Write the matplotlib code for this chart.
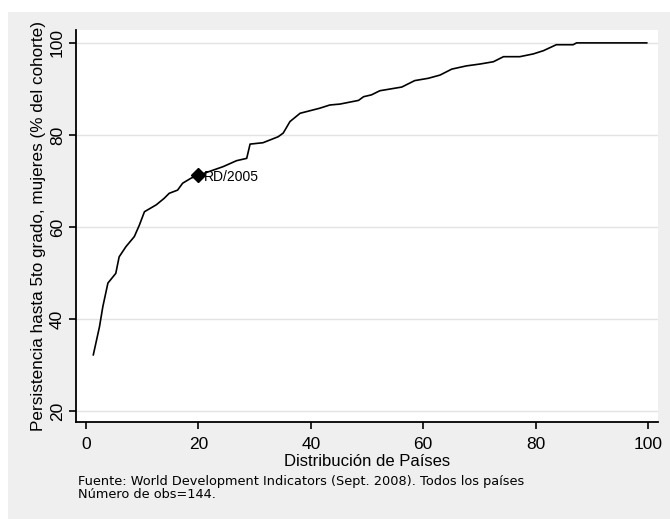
import matplotlib.pyplot as plt
from matplotlib.patches import Rectangle

# percentile rank of country vs. persistence to 5th grade (girls)
dist_paises = [1.3, 2.4, 3.0, 3.9, 5.3, 5.9, 7.1, 8.6, 9.5, 10.4, 12.5, 13.9, 14.8,
               16.3, 17.2, 18.7, 20.2, 24.4, 26.8, 28.6, 29.2, 31.5, 34.2, 35.1,
               36.3, 38.1, 41.6, 43.4, 45.2, 48.5, 49.4, 50.8, 52.3, 56.2, 58.5,
               60.9, 63.0, 65.1, 67.7, 70.1, 72.5, 74.3, 77.2, 79.6, 81.4, 83.7,
               86.7, 87.3, 99.8]
persistencia = [32.2, 38.3, 42.7, 47.8, 49.9, 53.5, 55.7, 57.9, 60.4, 63.3, 64.8,
                66.2, 67.3, 68.0, 69.5, 70.6, 71.3, 73.1, 74.4, 74.9, 78.0, 78.3,
                79.6, 80.4, 82.9, 84.7, 85.8, 86.5, 86.7, 87.5, 88.3, 88.7, 89.6,
                90.4, 91.8, 92.3, 93.0, 94.3, 95.0, 95.4, 95.9, 97.0, 97.0, 97.6,
                98.3, 99.6, 99.6, 100.0, 100.0]
rd_x, rd_y = 20, 71.2
rd_label = "RD/2005"

fig = plt.figure(figsize=(6.7, 5.19), dpi=100)
fig.patch.set_facecolor("white")
fig.patches.append(Rectangle((8 / 670, 0), 1, 1 - 12 / 519, transform=fig.transFigure,
                             facecolor="#efefef", edgecolor="none", zorder=-10))

ax = fig.add_axes([76 / 670, 1 - 422 / 519, 582 / 670, 392 / 519])
ax.set_facecolor("white")
ax.plot(dist_paises, persistencia, color="black", lw=1.2)
ax.plot(rd_x, rd_y, marker="D", color="black", ms=7)
ax.annotate(rd_label, (rd_x, rd_y), xytext=(4, -1), textcoords="offset points",
            va="center", ha="left", fontsize=10, family="Liberation Sans")

ax.set_xlim(-1.78, 101.8)
ax.set_ylim(17.6, 102.8)
ax.set_xticks([0, 20, 40, 60, 80, 100])
ax.set_yticks([20, 40, 60, 80, 100])
ax.grid(axis="y", color="#e3e3e3", lw=1)
ax.set_axisbelow(True)

for s in ["top", "right"]:
    ax.spines[s].set_visible(False)
for s in ["left", "bottom"]:
    ax.spines[s].set_linewidth(1.3)

ax.tick_params(axis="both", length=5, width=1.2, labelsize=12.5)
ax.tick_params(axis="x", pad=6)
ax.tick_params(axis="y", pad=3)
for lbl in ax.get_yticklabels():
    lbl.set_rotation(90)
    lbl.set_va("center")
for lbl in ax.get_xticklabels() + ax.get_yticklabels():
    lbl.set_family("Liberation Sans")

ax.set_xlabel("Distribución de Países", fontsize=12, family="Liberation Sans", labelpad=1)
ax.set_ylabel("Persistencia hasta 5to grado, mujeres (% del cohorte)", fontsize=12.3,
              family="Liberation Sans", labelpad=3)

fig.text(78 / 670, 1 - 482 / 519,
         "Fuente: World Development Indicators (Sept. 2008). Todos los países",
         fontsize=9.3, va="center", ha="left")
fig.text(78 / 670, 1 - 495 / 519, "Número de obs=144.",
         fontsize=9.3, va="center", ha="left")

fig.savefig("out.png", dpi=100)
